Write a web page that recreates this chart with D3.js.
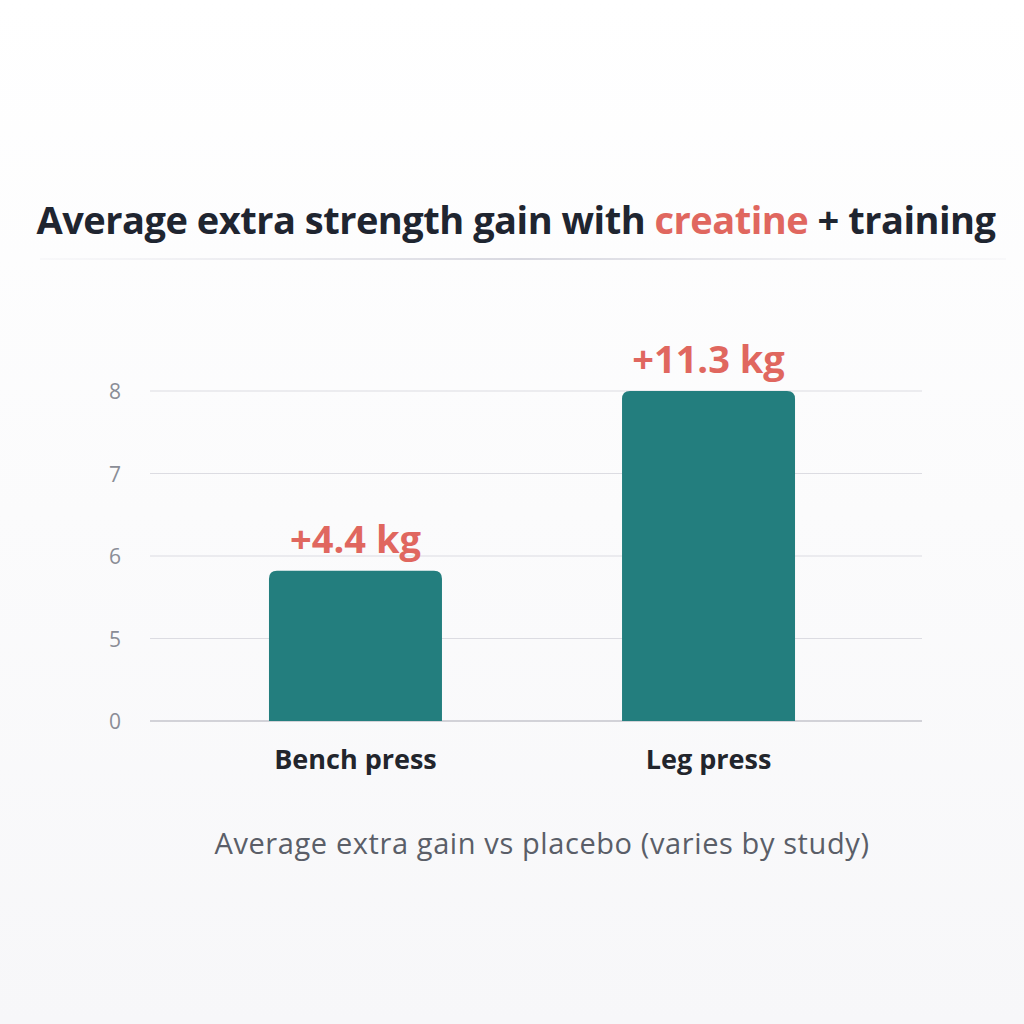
<!DOCTYPE html>
<html><head><meta charset="utf-8">
<script src="https://cdn.jsdelivr.net/npm/d3@7"></script>
<style>body{margin:0;background:#fbfbfc}</style></head>
<body><svg id="c" width="1024" height="1024"></svg>
<script>
const categories = ["Bench press", "Leg press"];
const gainLabels = ["+4.4 kg", "+11.3 kg"];
const barHeights = [5.82, 8.0];      // plotted height on the chart's (broken) axis
const tickValues = [4, 5, 6, 7, 8];
const tickLabels = ["0", "5", "6", "7", "8"];

const svg = d3.select("#c");
const defs = svg.append("defs");
const bg = defs.append("linearGradient").attr("id","bg").attr("x1",0).attr("y1",0).attr("x2",0).attr("y2",1);
bg.append("stop").attr("offset","0%").attr("stop-color","#ffffff");
bg.append("stop").attr("offset","100%").attr("stop-color","#f7f7f9");
svg.append("rect").attr("width",1024).attr("height",1024).attr("fill","url(#bg)");
const lg = defs.append("linearGradient").attr("id","ln");
lg.append("stop").attr("offset","0%").attr("stop-color","#e4e4ea").attr("stop-opacity",0.2);
lg.append("stop").attr("offset","50%").attr("stop-color","#d8d8e0");
lg.append("stop").attr("offset","100%").attr("stop-color","#e4e4ea").attr("stop-opacity",0.2);

const t = svg.append("text").attr("x",516).attr("y",234).attr("text-anchor","middle")
  .attr("font-family","Open Sans, sans-serif").attr("font-weight",700).attr("font-size",38)
  .attr("fill","#1f2530").attr("letter-spacing","-0.5");
t.append("tspan").text("Average extra strength gain with ");
t.append("tspan").attr("fill","#e0675f").text("creatine");
t.append("tspan").text(" + training");
svg.append("rect").attr("x",40).attr("y",258).attr("width",966).attr("height",2).attr("fill","url(#ln)");

const y = d3.scaleLinear().domain([4,8]).range([721,391]);
const x = d3.scaleBand().domain(categories).range([150,914]).paddingInner(0.51).paddingOuter(0.337);

const g = svg.append("g");
g.selectAll("line.grid").data(tickValues).join("line")
  .attr("x1",150).attr("x2",922).attr("y1",d=>y(d)).attr("y2",d=>y(d))
  .attr("stroke",(d,i)=>i===0?"#c4c4cc":"#dcdce2").attr("stroke-width",(d,i)=>i===0?1.6:1.2);
g.selectAll("text.tick").data(tickValues).join("text")
  .attr("x",115).attr("y",d=>y(d)+8).attr("text-anchor","middle")
  .attr("font-family","Open Sans, sans-serif").attr("font-size",21).attr("fill","#8a8d96")
  .text((d,i)=>tickLabels[i]);

const r = 8;
g.selectAll("path.bar").data(categories).join("path")
  .attr("fill","#237e7e")
  .attr("d",(c,i)=>{
    const x0=x(c), w=x.bandwidth(), y0=y(barHeights[i]), y1=y(4);
    return `M${x0},${y1}V${y0+r}Q${x0},${y0} ${x0+r},${y0}H${x0+w-r}Q${x0+w},${y0} ${x0+w},${y0+r}V${y1}Z`;
  });
g.selectAll("text.val").data(categories).join("text")
  .attr("x",c=>x(c)+x.bandwidth()/2).attr("y",(c,i)=>y(barHeights[i])-18)
  .attr("text-anchor","middle").attr("font-family","Open Sans, sans-serif").attr("font-weight",700)
  .attr("font-size",38).attr("fill","#e0675f").text((c,i)=>gainLabels[i]);
g.selectAll("text.cat").data(categories).join("text")
  .attr("x",c=>x(c)+x.bandwidth()/2).attr("y",769).attr("text-anchor","middle")
  .attr("font-family","Open Sans, sans-serif").attr("font-weight",700).attr("font-size",27)
  .attr("fill","#22252c").text(c=>c);

svg.append("text").attr("x",542).attr("y",854).attr("text-anchor","middle")
  .attr("font-family","Open Sans, sans-serif").attr("font-size",29).attr("fill","#5a5e68")
  .attr("letter-spacing","0.6")
  .text("Average extra gain vs placebo (varies by study)");
</script></body></html>
